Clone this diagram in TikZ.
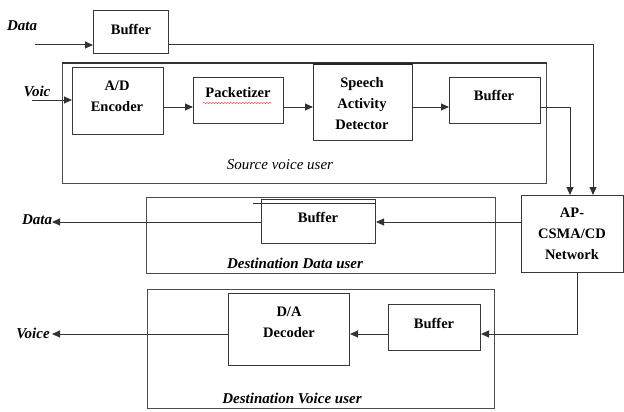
\documentclass[tikz,border=0pt]{standalone}
\usepackage{fontspec}
\setmainfont{Liberation Serif}
\usetikzlibrary{arrows.meta,calc,decorations.pathmorphing}
\tikzset{
  wire/.style={draw=black!80, line width=1pt},
  arr/.style={wire, -{Triangle[length=8pt,width=7pt]}},
  box/.style={draw=black!78, line width=1pt, anchor=north west, inner sep=0pt},
  group/.style={draw=black!70, line width=1pt, anchor=north west, inner sep=0pt},
  btxt/.style={font=\fontsize{14.5}{21}\selectfont\bfseries, align=center, inner sep=0pt},
  ilab/.style={font=\fontsize{15}{18}\selectfont\bfseries\itshape, inner sep=0pt},
  plab/.style={font=\fontsize{15}{18}\selectfont\itshape, inner sep=0pt},
}
\begin{document}
\begin{tikzpicture}[x=1pt,y=-1pt]
\useasboundingbox (0,0) rectangle (624,412);

% user groups
\node[group, minimum width=484pt, minimum height=120pt] (src) at (62,63) {};
\draw[draw=black!80, line width=1.6pt] (src.north west) -- (src.north east);
\node[group, minimum width=349pt, minimum height=76pt] (ddat) at (146,197) {};
\node[group, minimum width=347pt, minimum height=119pt] (dvoc) at (147,289) {};

% blocks
\node[box, minimum width=75pt, minimum height=43pt] (buf1) at (93,10) {};
\node[box, minimum width=91pt, minimum height=67pt] (ad) at (72,67) {};
\node[box, minimum width=90pt, minimum height=46pt] (pk) at (193,77) {};
\node[box, minimum width=99pt, minimum height=76pt] (sad) at (313,64) {};
\draw[black!85, line width=2.2pt] (sad.north west) -- (sad.north east);
\node[box, minimum width=91pt, minimum height=46pt] (sbuf) at (449,77) {};
\node[box, minimum width=102pt, minimum height=77pt] (ap) at (521,195) {};
\node[box, minimum width=114pt, minimum height=44pt] (dbuf) at (261,199) {};
\draw[wire] ($(dbuf.north west)+(-8,4)$) -- ($(dbuf.north east)+(0,4)$);
\node[box, minimum width=121pt, minimum height=72pt] (dec) at (228,293) {};
\node[box, minimum width=92pt, minimum height=46pt] (vbuf) at (388,304) {};

% block texts
\node[btxt] (buf1T) at (131,29) {Buffer};
\node[btxt] (adT) at (117,96) {A/D\\Encoder};
\node[btxt] (pkT) at (238,93) {Packetizer};
\draw[red!80, line width=0.45pt, decorate, decoration={snake, amplitude=0.6pt, segment length=3pt}] (203,103) -- (272,103);
\node[btxt] (sadT) at (362,104) {Speech\\Activity\\Detector};
\node[btxt] (sbufT) at (494,95) {Buffer};
\node[btxt] (apT) at (572,234) {AP-\\CSMA/CD\\Network};
\node[btxt] (dbufT) at (318,217) {Buffer};
\node[btxt] (decT) at (289,322) {D/A\\Decoder};
\node[btxt] (vbufT) at (434,323) {Buffer};

% outside labels
\node[ilab] (dataInL) at (22,26) {Data};
\node[ilab] (voicInL) at (37,91) {Voic};
\node[ilab] (dataOutL) at (37,220) {Data};
\node[ilab] (voiceOutL) at (33,333) {Voice};
\node[plab] (srcL) at (280,165) {Source voice user};
\node[ilab] (ddatL) at (295,263) {Destination Data user};
\node[ilab] (dvocL) at (292,398) {Destination Voice user};

% connection points
\coordinate (dIn) at (35,45);
\coordinate (vIn) at (32,100);
\coordinate (row) at (0,107);
\coordinate (drow) at (0,222);
\coordinate (vrow) at (0,334);
\coordinate (dOut) at (52,222);
\coordinate (vOut) at (52,334);
\coordinate (apA) at ($(ap.north west)+(49,0)$);
\coordinate (apB) at ($(ap.north west)+(72,0)$);
\coordinate (apC) at ($(ap.south west)+(56,0)$);

% connectors
\draw[arr] (dIn) -- (dIn -| buf1.west);
\draw[arr] (buf1.east |- dIn) -| (apB);
\draw[arr] (vIn) -- (vIn -| ad.west);
\draw[arr] (ad.east |- row) -- (pk.west |- row);
\draw[arr] (pk.east |- row) -- (sad.west |- row);
\draw[arr] (sad.east |- row) -- (sbuf.west |- row);
\draw[arr] (sbuf.east |- row) -| (apA);
\draw[arr] (ap.west |- drow) -- (dbuf.east |- drow);
\draw[arr] (dbuf.west |- drow) -- (dOut);
\draw[arr] (apC) |- (vbuf.east |- vrow);
\draw[arr] (vbuf.west |- vrow) -- (dec.east |- vrow);
\draw[arr] (dec.west |- vrow) -- (vOut);
\end{tikzpicture}
\end{document}
